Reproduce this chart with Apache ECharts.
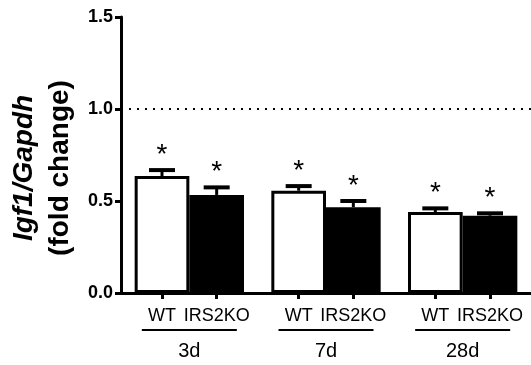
<!DOCTYPE html>
<html>
<head>
<meta charset="utf-8">
<script src="https://cdn.jsdelivr.net/npm/echarts@6/dist/echarts.min.js"></script>
<style>
html,body{margin:0;padding:0;background:#fff;}
#chart{width:531px;height:365px;}
</style>
</head>
<body>
<div id="chart"></div>
<script>
// ---- data ----
const groups = ['3d', '7d', '28d'];
const genotypes = ['WT', 'IRS2KO'];
const wtMean = [0.636, 0.556, 0.440];
const wtSem  = [0.032, 0.025, 0.020];
const koMean = [0.533, 0.466, 0.420];
const koSem  = [0.041, 0.034, 0.013];
const yTicks = [0, 0.5, 1.0, 1.5];
const refLine = 1.0;

const FONT = 'Liberation Sans, Arial, sans-serif';

// bar centres on the auxiliary value axis (one unit per group)
const tickPos = [];
groups.forEach((g, i) => { tickPos.push(i + 0.3, i + 0.7); });

function errSeries(name, means, sems, side) {
  return {
    type: 'custom',
    name: name + ' err',
    xAxisIndex: 0,
    yAxisIndex: 0,
    z: 5,
    data: means.map((m, i) => [i, m, sems[i]]),
    renderItem: function (params, api) {
      const idx = api.value(0);
      const m = api.value(1), e = api.value(2);
      const band = api.size([1, 0])[0];
      const off = side * 0.2 * band;
      const base = api.coord([idx, m]);
      const top = api.coord([idx, m + e]);
      const x = base[0] + off;
      const capHalf = 13;
      return {
        type: 'group',
        children: [
          { type: 'line', shape: { x1: x, y1: base[1], x2: x, y2: top[1] },
            style: { stroke: '#000', lineWidth: 3 } },
          { type: 'line', shape: { x1: x - capHalf, y1: top[1], x2: x + capHalf, y2: top[1] },
            style: { stroke: '#000', lineWidth: 4 } },
          { type: 'text', x: x, y: top[1] - 15,
            style: { text: '*', fill: '#000', font: '28px ' + FONT, align: 'center', verticalAlign: 'middle' } }
        ]
      };
    }
  };
}

const chart = echarts.init(document.getElementById('chart'), null, { renderer: 'canvas' });
chart.setOption({
  animation: false,
  backgroundColor: '#fff',
  grid: { left: 121, right: 0, top: 17, bottom: 72, containLabel: false, outerBoundsMode: 'none' },
  xAxis: [
    {
      type: 'category',
      data: groups,
      axisLine: { show: true, lineStyle: { color: '#000', width: 3 } },
      axisTick: { show: false },
      axisLabel: {
        margin: 36,
        formatter: v => '{u|}\n{t|' + v + '}',
        rich: {
          u: { width: 95, height: 2, backgroundColor: '#000' },
          t: { fontFamily: FONT, fontSize: 20, color: '#000', lineHeight: 40, verticalAlign: 'middle' }
        }
      }
    },
    {
      type: 'value',
      min: 0, max: groups.length,
      position: 'bottom',
      axisLine: { show: false },
      splitLine: { show: false },
      axisTick: { show: true, customValues: tickPos, length: 6, lineStyle: { color: '#000', width: 3 } },
      axisLabel: {
        customValues: tickPos,
        margin: 14,
        color: '#000',
        fontFamily: FONT,
        fontSize: 18,
        formatter: v => genotypes[(v - Math.floor(v)) < 0.5 ? 0 : 1]
      }
    }
  ],
  yAxis: {
    type: 'value',
    min: 0, max: 1.5, interval: 0.5,
    axisLine: { show: true, lineStyle: { color: '#000', width: 3 } },
    axisTick: { show: true, length: 6, lineStyle: { color: '#000', width: 3 } },
    splitLine: { show: false },
    axisLabel: {
      color: '#000', fontFamily: FONT, fontSize: 18, fontWeight: 'bold', margin: 8,
      formatter: v => v.toFixed(1)
    },
    name: '{i|Igf1/Gapdh}\n{n|(fold change)}',
    nameLocation: 'middle',
    nameRotate: 90,
    nameGap: 43,
    nameTextStyle: {
      padding: [0, 26, 0, 0],
      rich: {
        i: { fontFamily: FONT, fontSize: 28, fontWeight: 'bold', fontStyle: 'italic', color: '#000', lineHeight: 36 },
        n: { fontFamily: FONT, fontSize: 28, fontWeight: 'bold', color: '#000', lineHeight: 36 }
      }
    }
  },
  series: [
    {
      name: 'WT', type: 'bar', data: wtMean,
      barGap: '0%', barCategoryGap: '20%',
      itemStyle: { color: '#fff', borderColor: '#000', borderWidth: 3 },
      markLine: {
        silent: true, symbol: 'none', label: { show: false },
        lineStyle: { color: '#000', width: 2, type: [2, 6] },
        data: [{ yAxis: refLine }]
      }
    },
    {
      name: 'IRS2KO', type: 'bar', data: koMean,
      barGap: '0%', barCategoryGap: '20%',
      itemStyle: { color: '#000', borderColor: '#000', borderWidth: 3 }
    },
    errSeries('WT', wtMean, wtSem, -1),
    errSeries('IRS2KO', koMean, koSem, 1)
  ]
});
</script>
</body>
</html>
